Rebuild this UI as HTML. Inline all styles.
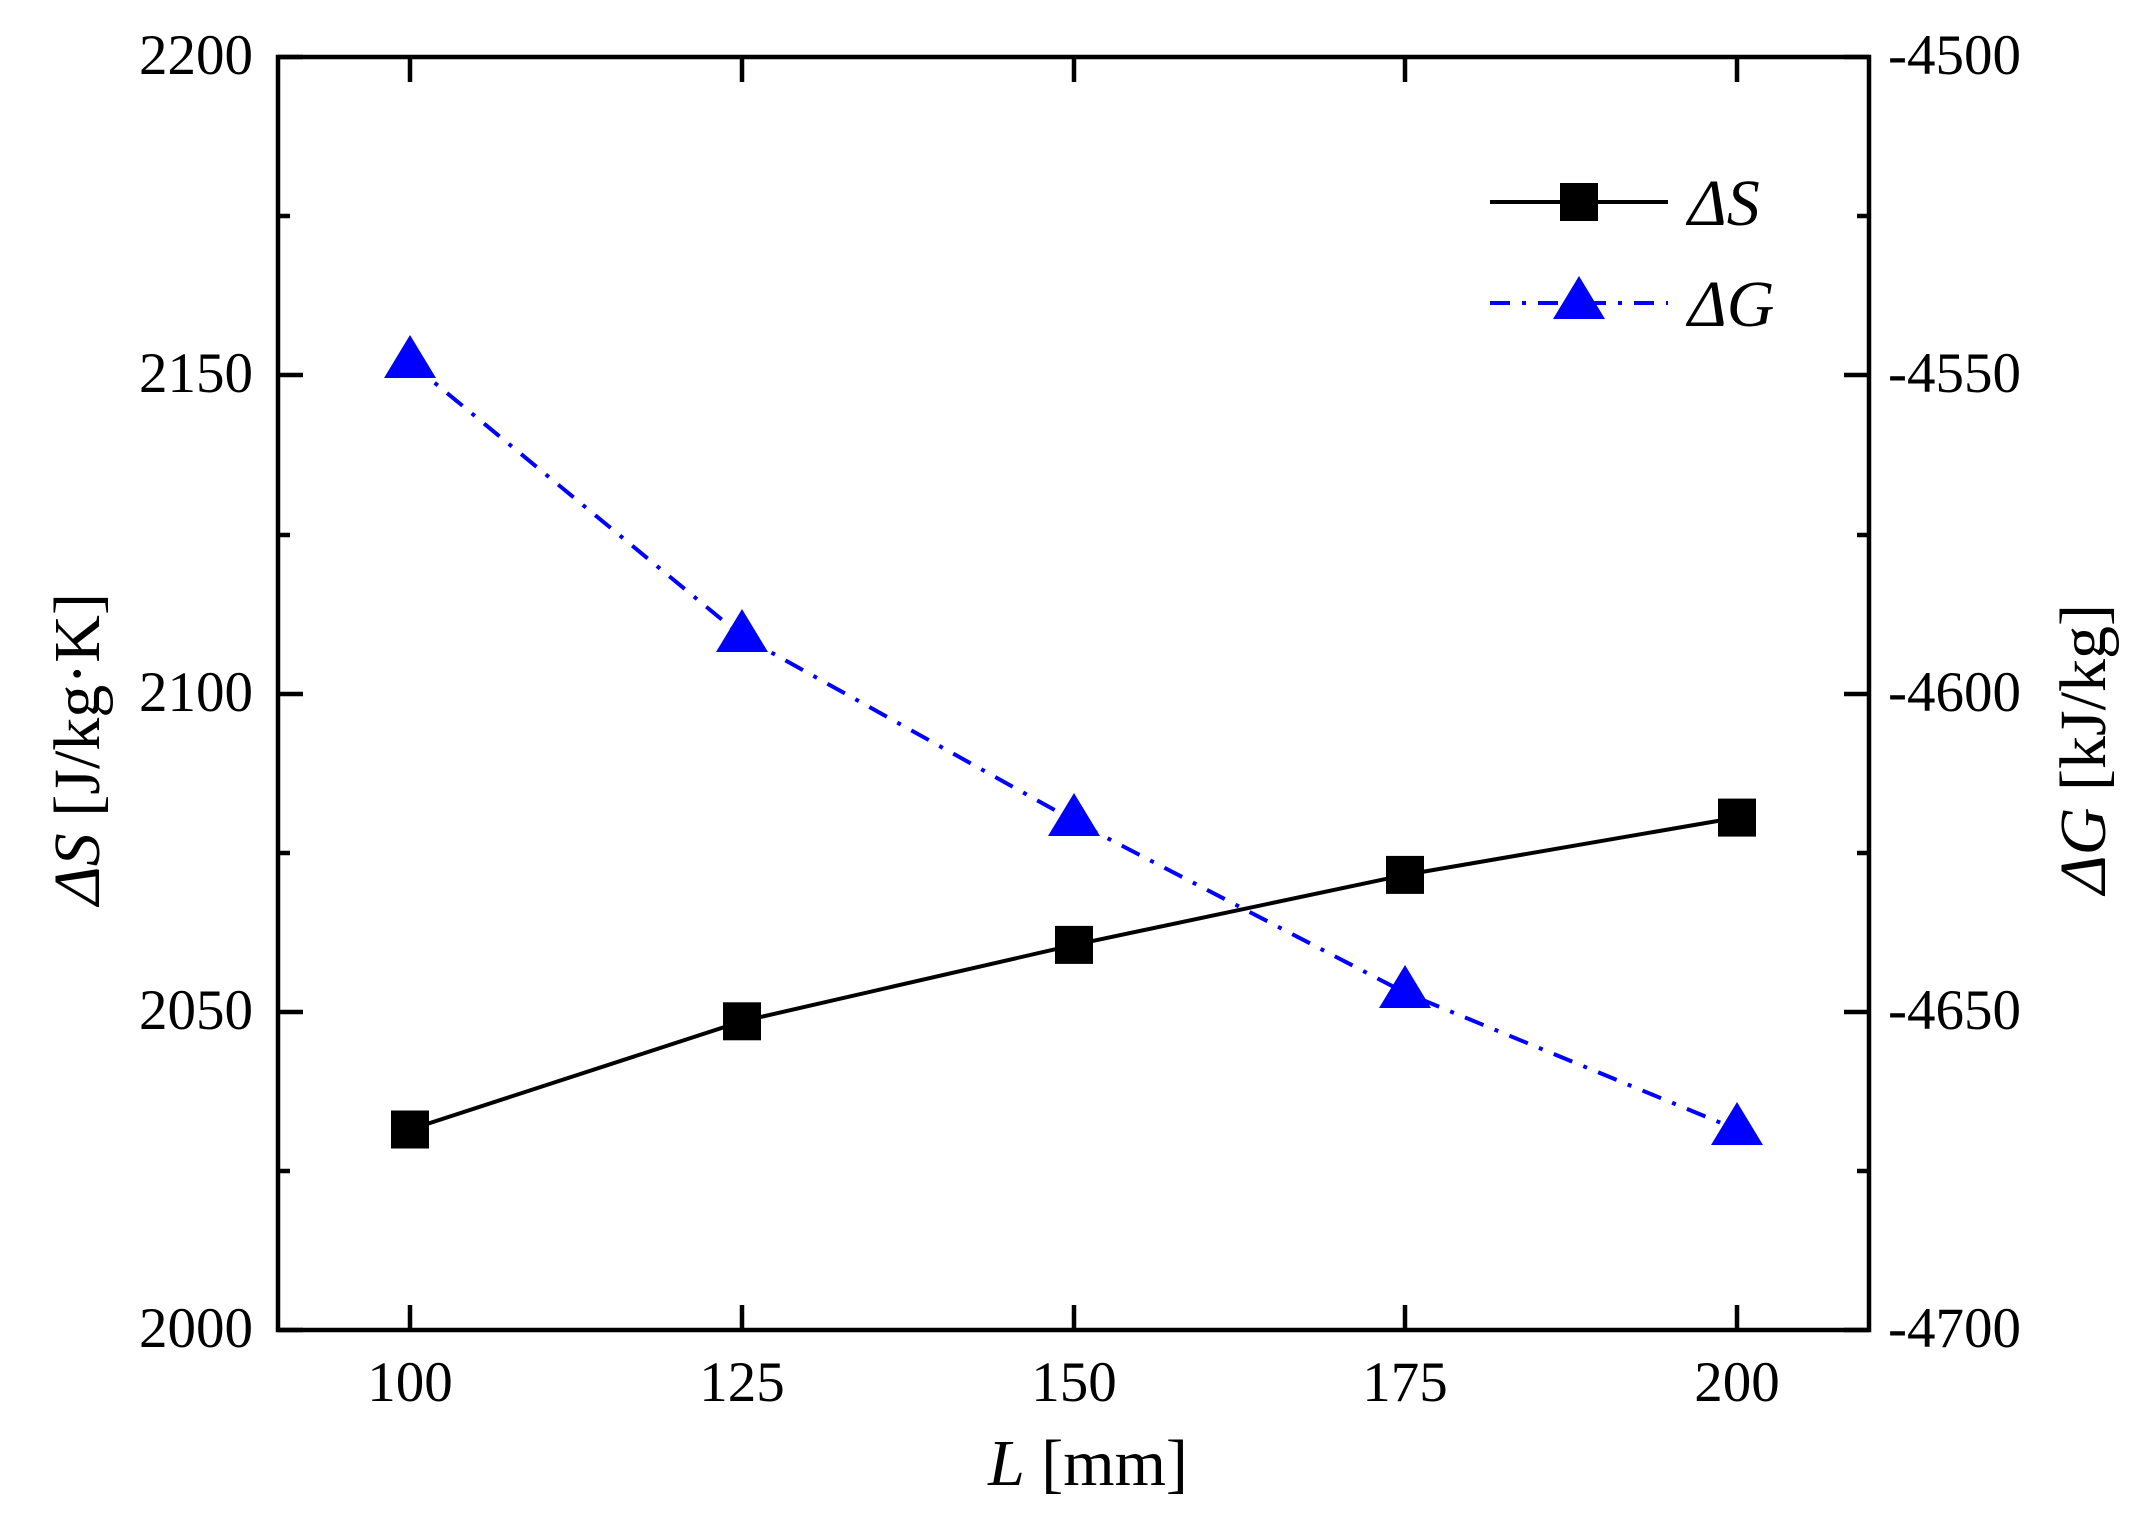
<!DOCTYPE html>
<html><head><style>body{margin:0;background:#fff}svg{display:block}</style></head><body>
<svg width="2132" height="1516" viewBox="0 0 2132 1516" xmlns="http://www.w3.org/2000/svg" font-family="Liberation Serif, serif">
<g stroke="#000" stroke-width="4.5" fill="none">
<rect x="278" y="57" width="1591" height="1273"/>
<path d="M278 57h25M278 375h25M278 694h25M278 1012h25M278 1330h25
M278 216h12M278 535h12M278 853h12M278 1171h12
M1869 57h-25M1869 375h-25M1869 694h-25M1869 1012h-25M1869 1330h-25
M1869 216h-12M1869 535h-12M1869 853h-12M1869 1171h-12
M410 1330v-25M742 1330v-25M1074 1330v-25M1405 1330v-25M1737 1330v-25
M410 57v25M742 57v25M1074 57v25M1405 57v25M1737 57v25"/>
</g>
<g font-size="57" fill="#000">
<g text-anchor="end"><text x="253" y="74">2200</text><text x="253" y="392">2150</text><text x="253" y="711">2100</text><text x="253" y="1029">2050</text><text x="253" y="1347">2000</text></g>
<g text-anchor="start"><text x="1888" y="74">-4500</text><text x="1888" y="392">-4550</text><text x="1888" y="711">-4600</text><text x="1888" y="1029">-4650</text><text x="1888" y="1347">-4700</text></g>
<g text-anchor="middle"><text x="410" y="1401">100</text><text x="742" y="1401">125</text><text x="1074" y="1401">150</text><text x="1405" y="1401">175</text><text x="1737" y="1401">200</text></g>
</g>
<g font-size="66" fill="#000" text-anchor="middle">
<text x="1088" y="1485"><tspan font-style="italic">L</tspan> [mm]</text>
<text transform="translate(99,749) rotate(-90)"><tspan font-style="italic">ΔS</tspan> [J/kg·K]</text>
<text transform="translate(2105,749) rotate(-90)"><tspan font-style="italic">ΔG</tspan> [kJ/kg]</text>
</g>
<polyline points="410,1129.5 742,1021.3 1074,944.9 1405,874.9 1737,817.6" fill="none" stroke="#000" stroke-width="4"/>
<polyline points="410,362.5 742,636.2 1074,820.8 1405,992.7 1737,1129.5" fill="none" stroke="#00f" stroke-width="4" stroke-dasharray="20,12,4,12"/>
<g fill="#000">
<rect x="391" y="1110.5" width="38" height="38"/><rect x="723" y="1002.3" width="38" height="38"/><rect x="1055" y="925.9" width="38" height="38"/><rect x="1386" y="855.9" width="38" height="38"/><rect x="1718" y="798.6" width="38" height="38"/>
</g>
<g fill="#00f">
<path d="M410 335l26 43h-52z"/><path d="M742 609l26 43h-52z"/><path d="M1074 793l26 43h-52z"/><path d="M1405 965l26 43h-52z"/><path d="M1737 1102l26 43h-52z"/>
</g>
<line x1="1490" y1="202" x2="1668" y2="202" stroke="#000" stroke-width="4"/>
<rect x="1560" y="183" width="38" height="38" fill="#000"/>
<line x1="1490" y1="303" x2="1668" y2="303" stroke="#00f" stroke-width="4" stroke-dasharray="20,12,4,12"/>
<path d="M1579 276l26 43h-52z" fill="#00f"/>
<g font-size="66" font-style="italic" fill="#000"><text x="1688" y="225">ΔS</text><text x="1688" y="326">ΔG</text></g>
</svg>
</body></html>
